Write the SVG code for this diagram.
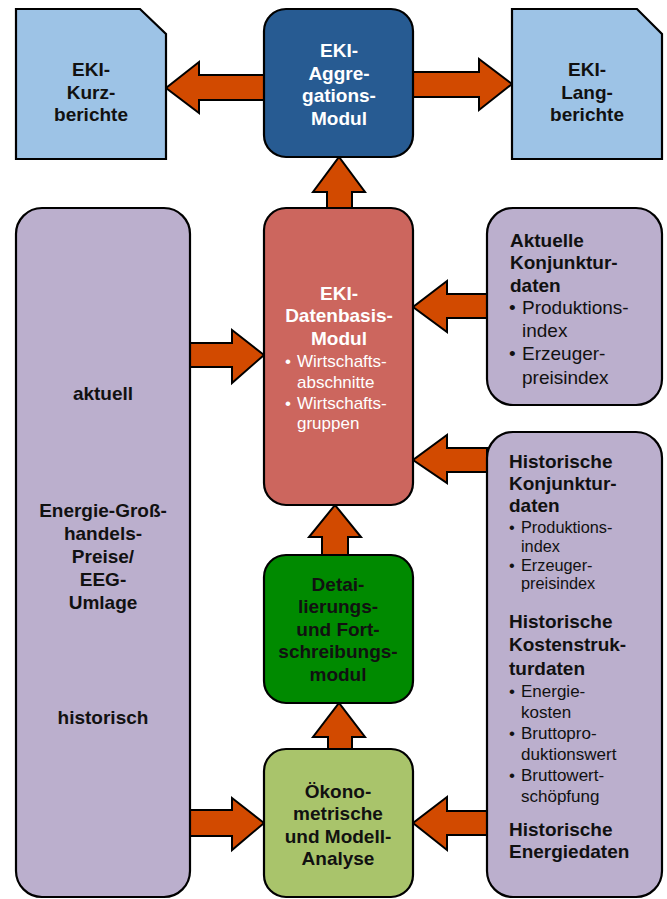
<svg xmlns="http://www.w3.org/2000/svg" width="667" height="899" viewBox="0 0 667 899">
<style>
.box{stroke:#000;stroke-width:2.2}
.doc{fill:#9DC3E6}
.agg{fill:#275B92}
.db{fill:#CC665E}
.det{fill:#008A00}
.oek{fill:#A9C46B}
.pur{fill:#BBAFCD}
.arr{fill:#D24A00;stroke:#000;stroke-width:2;stroke-linejoin:miter}
text{font-family:"Liberation Sans",Arial,sans-serif}
.b{font-weight:bold;font-size:19px}
.c{text-anchor:middle}
.w{fill:#fff}
.k{fill:#111}
.n{font-size:17px}
.m{font-size:19px}
.s{font-size:16.3px}
</style>
<g id="connectors">
<path class="arr" d="M264,75 L199,75 L199,62 L166,88 L199,113 L199,100 L264,100 Z"/>
<path class="arr" d="M413,72 L479,72 L479,59 L512,84 L479,110 L479,97 L413,97 Z"/>
<path class="arr" d="M327,208 L327,192 L313,192 L339,157 L365,192 L352,192 L352,208 Z"/>
<path class="arr" d="M322,555 L322,537 L309,537 L335,505 L361,537 L348,537 L348,555 Z"/>
<path class="arr" d="M328,749 L328,737 L313,737 L339,703 L365,737 L352,737 L352,749 Z"/>
<path class="arr" d="M190,343 L232,343 L232,330 L264,355 L232,383 L232,367 L190,367 Z"/>
<path class="arr" d="M190,810 L232,810 L232,798 L264,823 L232,850 L232,836 L190,836 Z"/>
<path class="arr" d="M487,294 L447,294 L447,281 L413,307 L447,332 L447,318 L487,318 Z"/>
<path class="arr" d="M487,448 L447,448 L447,435 L413,460 L447,483 L447,472 L487,472 Z"/>
<path class="arr" d="M487,811 L447,811 L447,797 L413,823 L447,850 L447,835 L487,835 Z"/>
</g>
<g id="kurzberichte">
<path class="box doc" d="M16,9 L140,9 L166,34 L166,159 L16,159 Z"/>
<text class="b c k" x="91" y="76">EKI-</text>
<text class="b c k" x="91" y="99">Kurz-</text>
<text class="b c k" x="91" y="121">berichte</text>
</g>
<g id="langberichte">
<path class="box doc" d="M512,9 L637,9 L662,34 L662,159 L512,159 Z"/>
<text class="b c k" x="587" y="76">EKI-</text>
<text class="b c k" x="587" y="99">Lang-</text>
<text class="b c k" x="587" y="121">berichte</text>
</g>
<g id="aggregation">
<rect class="box agg" x="264" y="9" width="149" height="148" rx="22"/>
<text class="b c w" x="339" y="57">EKI-</text>
<text class="b c w" x="339" y="80">Aggre-</text>
<text class="b c w" x="339" y="102">gations-</text>
<text class="b c w" x="339" y="125">Modul</text>
</g>
<g id="datenbasis">
<rect class="box db" x="264" y="208" width="149" height="297" rx="22"/>
<text class="b c w" x="339" y="300">EKI-</text>
<text class="b c w" x="339" y="322">Datenbasis-</text>
<text class="b c w" x="339" y="345">Modul</text>
<text class="n w" x="285" y="367">•</text>
<text class="n w" x="297" y="367">Wirtschafts-</text>
<text class="n w" x="297" y="388">abschnitte</text>
<text class="n w" x="285" y="409">•</text>
<text class="n w" x="297" y="409">Wirtschafts-</text>
<text class="n w" x="297" y="429">gruppen</text>
</g>
<g id="detaillierung">
<rect class="box det" x="264" y="555" width="149" height="148" rx="22"/>
<text class="b c k" x="338" y="591">Detai-</text>
<text class="b c k" x="338" y="613">lierungs-</text>
<text class="b c k" x="338" y="636">und Fort-</text>
<text class="b c k" x="338" y="658">schreibungs-</text>
<text class="b c k" x="338" y="681">modul</text>
</g>
<g id="oekonometrie">
<rect class="box oek" x="264" y="749" width="149" height="148" rx="22"/>
<text class="b c k" x="338" y="798">Ökono-</text>
<text class="b c k" x="338" y="820">metrische</text>
<text class="b c k" x="338" y="843">und Modell-</text>
<text class="b c k" x="338" y="865">Analyse</text>
</g>
<g id="energiepreise">
<rect class="box pur" x="16" y="208" width="174" height="689" rx="26"/>
<text class="b c k" x="103" y="400">aktuell</text>
<text class="b c k" x="103" y="517">Energie-Groß-</text>
<text class="b c k" x="103" y="540">handels-</text>
<text class="b c k" x="103" y="563">Preise/</text>
<text class="b c k" x="103" y="586">EEG-</text>
<text class="b c k" x="103" y="609">Umlage</text>
<text class="b c k" x="103" y="724">historisch</text>
</g>
<g id="aktuelle">
<rect class="box pur" x="487" y="208" width="175" height="197" rx="26"/>
<text class="b k" x="510" y="247">Aktuelle</text>
<text class="b k" x="510" y="269">Konjunktur-</text>
<text class="b k" x="510" y="292">daten</text>
<text class="m k" x="509" y="314">•</text>
<text class="m k" x="522" y="314">Produktions-</text>
<text class="m k" x="522" y="337">index</text>
<text class="m k" x="509" y="360">•</text>
<text class="m k" x="522" y="360">Erzeuger-</text>
<text class="m k" x="522" y="384">preisindex</text>
</g>
<g id="historische">
<rect class="box pur" x="487" y="432" width="175" height="465" rx="26"/>
<text class="b k" x="509" y="468">Historische</text>
<text class="b k" x="509" y="490">Konjunktur-</text>
<text class="b k" x="509" y="512">daten</text>
<text class="s k" x="509" y="533">•</text>
<text class="s k" x="521" y="533">Produktions-</text>
<text class="s k" x="521" y="552">index</text>
<text class="s k" x="509" y="571">•</text>
<text class="s k" x="521" y="571">Erzeuger-</text>
<text class="s k" x="521" y="589">preisindex</text>
<text class="b k" x="509" y="628">Historische</text>
<text class="b k" x="509" y="651">Kostenstruk-</text>
<text class="b k" x="509" y="675">turdaten</text>
<text class="n k" x="509" y="697">•</text>
<text class="n k" x="521" y="697">Energie-</text>
<text class="n k" x="521" y="718">kosten</text>
<text class="n k" x="509" y="739">•</text>
<text class="n k" x="521" y="739">Bruttopro-</text>
<text class="n k" x="521" y="760">duktionswert</text>
<text class="n k" x="509" y="781">•</text>
<text class="n k" x="521" y="781">Bruttowert-</text>
<text class="n k" x="521" y="802">schöpfung</text>
<text class="b k" x="509" y="836">Historische</text>
<text class="b k" x="509" y="858">Energiedaten</text>
</g>
</svg>
